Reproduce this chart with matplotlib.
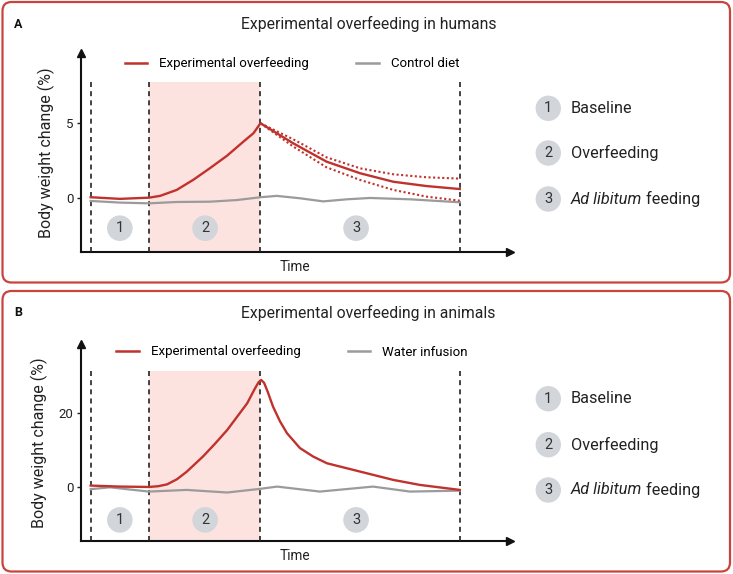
import matplotlib
matplotlib.use('Agg')
import matplotlib.pyplot as plt
from matplotlib.patches import FancyBboxPatch, Circle
from matplotlib.lines import Line2D

plt.rcParams['font.family'] = ['Roboto', 'DejaVu Sans']

# phase boundaries (time units) and phase labels
bounds = [0, 1.58, 4.6, 10]
phase_x = [0.79, 3.1, 7.19]
phase_names = ['Baseline', 'Overfeeding', 'Ad libitum']

# panel A - humans
a_red_t = [0, 0.79, 1.58, 1.88, 2.33, 2.78, 3.23, 3.69, 4.14, 4.41, 4.6,
           5.49, 6.39, 7.3, 8.2, 9.1, 10]
a_red = [0.03, -0.08, 0.0, 0.12, 0.52, 1.2, 1.98, 2.81, 3.77, 4.33, 5.0,
         3.65, 2.42, 1.64, 1.07, 0.78, 0.58]
a_band_t = [4.6, 5.49, 6.39, 7.3, 8.2, 9.1, 10]
a_upper = [5.0, 3.92, 2.71, 1.97, 1.57, 1.37, 1.28]
a_lower = [5.0, 3.43, 2.04, 1.19, 0.52, 0.07, -0.2]
a_gray_t = [0, 0.79, 1.58, 2.33, 3.23, 3.96, 4.6, 5.04, 5.67, 6.3, 6.94,
            7.57, 8.65, 10]
a_gray = [-0.22, -0.33, -0.38, -0.29, -0.27, -0.16, 0.03, 0.12, -0.04,
          -0.25, -0.11, -0.02, -0.11, -0.31]

# panel B - animals
b_red_t = [0, 0.8, 1.58, 1.83, 2.07, 2.34, 2.6, 3.04, 3.37, 3.7, 4.24,
           4.45, 4.55, 4.62, 4.7, 4.8, 4.94, 5.13, 5.32, 5.67, 6.03, 6.4,
           7.3, 8.2, 8.92, 10]
b_red = [0.27, 0.0, -0.1, 0.1, 0.6, 2.0, 4.0, 8.1, 11.6, 15.3, 22.5,
         26.5, 28.2, 28.8, 28.0, 25.5, 21.6, 17.6, 14.4, 10.4, 8.1, 6.3,
         4.05, 1.8, 0.45, -0.9]
b_gray_t = [0, 0.52, 1.58, 2.6, 3.7, 4.6, 5.05, 6.21, 7.65, 8.65, 10]
b_gray = [-0.7, -0.2, -1.35, -0.9, -1.6, -0.6, 0.0, -1.35, 0.0, -1.35, -1.1]

RED = '#C0322D'
GRAY = '#9B9B9B'
PINK = '#FDE3DF'
DOT = '#D2D5D9'
BORDER = '#C9443D'

W, H = 733, 574
fig = plt.figure(figsize=(W / 100, H / 100), dpi=100)

# overlay in pixel coordinates for frames and side legend
ov = fig.add_axes([0, 0, 1, 1], zorder=0)
ov.set_xlim(0, W)
ov.set_ylim(H, 0)
ov.axis('off')


def px_axes(left, right, top, bottom):
    return fig.add_axes([left / W, 1 - bottom / H, (right - left) / W,
                         (bottom - top) / H], zorder=2)


panels = [
    dict(letter='A', title='Experimental overfeeding in humans',
         box=(2.5, 2, 727.5, 280.5), top=53.3, bottom=251.7,
         ylim=(-3.63, 9.7), yticks=[0, 5], shade_top=7.77, dot_y=-2.05,
         ctrl='Control diet', leg_y=64, circ_y=[108.3, 153, 199]),
    dict(letter='B', title='Experimental overfeeding in animals',
         box=(2.5, 291, 727.5, 280.5), top=343.7, bottom=541,
         ylim=(-14.7, 38.6), yticks=[0, 20], shade_top=31.3, dot_y=-9.0,
         ctrl='Water infusion', leg_y=352, circ_y=[398.7, 444.7, 490]),
]

for i, p in enumerate(panels):
    x0, y0, bw, bh = p['box']
    ov.add_patch(FancyBboxPatch((x0, y0), bw, bh,
                                boxstyle='round,pad=0,rounding_size=9',
                                fc='none', ec=BORDER, lw=1.6))
    ov.text(18.5, y0 + 22, p['letter'], fontsize=9, fontweight='bold',
            ha='center', va='center', color='#111111')
    ov.text(368.5, y0 + 21.5, p['title'], fontsize=11.3, ha='center',
            va='center', color='#222222')

    # side legend of phases
    for k in range(3):
        cy = p['circ_y'][k]
        ov.add_patch(Circle((548.3, cy), 12.7, fc=DOT, ec='none'))
        ov.text(548.3, cy, str(k + 1), fontsize=10.5, ha='center',
                va='center', color='#333333')
        if k < 2:
            ov.text(570.5, cy, phase_names[k], fontsize=11.7, ha='left',
                    va='center', color='#222222')
        else:
            t1 = ov.text(570.5, cy, phase_names[k], fontsize=11.7,
                         ha='left', va='center', style='italic',
                         color='#222222')
            ov.annotate(' feeding', xy=(1, 0.5), xycoords=t1,
                        fontsize=11.7, ha='left', va='center',
                        color='#222222')

    ax = px_axes(80.7, 510, p['top'], p['bottom'])
    ax.patch.set_alpha(0)
    ax.set_xlim(-0.27, 11.36)
    ax.set_ylim(*p['ylim'])
    ymin = p['ylim'][0]

    ax.fill_between([bounds[1], bounds[2]], ymin, p['shade_top'],
                    color=PINK, lw=0, zorder=1)
    ax.vlines(bounds, ymin, p['shade_top'], colors='#222222', lw=1.2,
              linestyles=(0, (3, 2.5)), zorder=3)
    ax.scatter(phase_x, [p['dot_y']] * 3, s=340, color=DOT, zorder=2,
               edgecolors='none')
    for k, xx in enumerate(phase_x):
        ax.text(xx, p['dot_y'], str(k + 1), fontsize=10.5, ha='center',
                va='center', color='#333333', zorder=4)

    if i == 0:
        ax.plot(a_gray_t, a_gray, color=GRAY, lw=1.6, zorder=4)
        ax.plot(a_band_t, a_upper, color=RED, lw=1.5, ls=(0, (1, 1.2)),
                zorder=5)
        ax.plot(a_band_t, a_lower, color=RED, lw=1.5, ls=(0, (1, 1.2)),
                zorder=5)
        ax.plot(a_red_t, a_red, color=RED, lw=1.7, zorder=6)
    else:
        ax.plot(b_gray_t, b_gray, color=GRAY, lw=1.6, zorder=4)
        ax.plot(b_red_t, b_red, color=RED, lw=1.7, zorder=6)

    for s in ['top', 'right']:
        ax.spines[s].set_visible(False)
    for s in ['left', 'bottom']:
        ax.spines[s].set_linewidth(1.5)
        ax.spines[s].set_color('#111111')
    ax.plot(1, 0, '>', color='#111111', ms=6, transform=ax.transAxes,
            clip_on=False)
    ax.plot(0, 1, '^', color='#111111', ms=6, transform=ax.transAxes,
            clip_on=False)

    ax.set_xticks([])
    ax.set_yticks(p['yticks'])
    ax.tick_params(axis='y', length=3, width=1, labelsize=9.5, pad=2,
                   colors='#222222')
    ax.set_xlabel('Time', fontsize=9.8, labelpad=6, color='#222222')
    ax.set_ylabel('Body weight change (%)', fontsize=11.5, labelpad=8,
                  color='#222222')

    handles = [Line2D([], [], color=RED, lw=1.8),
               Line2D([], [], color=GRAY, lw=1.8)]
    leg_y = (p['bottom'] - p['leg_y']) / (p['bottom'] - p['top'])
    ax.legend(handles, ['Experimental overfeeding', p['ctrl']], ncol=2,
              loc='center', bbox_to_anchor=(0.492, leg_y), frameon=False,
              fontsize=9.5, handlelength=1.7, handletextpad=0.9,
              columnspacing=3.6, borderaxespad=0)

fig.savefig('out.png', dpi=100)
